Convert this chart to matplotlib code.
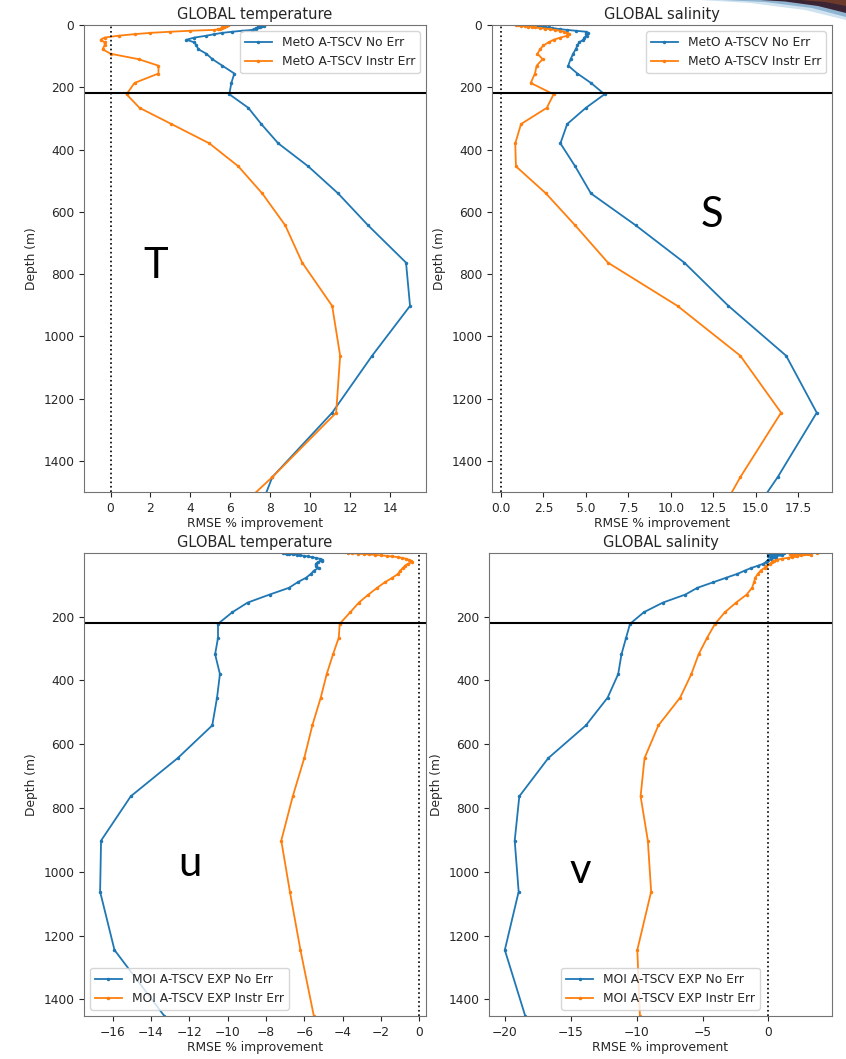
import numpy as np
import matplotlib.pyplot as plt
from matplotlib.patches import Polygon

plt.rcParams['font.size'] = 8.8
plt.rcParams['text.color'] = '#262626'
plt.rcParams['axes.labelcolor'] = '#262626'
plt.rcParams['xtick.color'] = '#262626'
plt.rcParams['ytick.color'] = '#262626'

# model depth levels (m)
depth = [0.49, 1.54, 2.65, 3.82, 5.08, 6.44, 7.93, 9.57, 11.4, 13.47,
         15.81, 18.5, 21.6, 25.21, 29.44, 34.43, 40.34, 47.37, 55.76, 65.81,
         77.85, 92.33, 109.73, 130.67, 155.85, 186.13, 222.48, 266.04, 318.13, 380.21,
         453.94, 541.09, 643.57, 763.33, 902.34, 1062.44, 1245.29, 1452.25, 1684.28]

# RMSE % improvement, MetO A-TSCV, temperature
T_no_err = [7.7, 7.6, 7.7, 7.6, 7.5, 7.4, 7.4, 7.3, 7.3, 7.2,
            7.1, 6.6, 6.1, 5.6, 5.2, 4.8, 4.2, 3.8, 4.2, 4.3,
            4.4, 4.8, 5.1, 5.6, 6.2, 6.05, 5.95, 6.9, 7.55, 8.4,
            9.9, 11.4, 12.9, 14.8, 15.0, 13.1, 11.1, 8.1, 6.7]
T_instr_err = [5.9, 5.9, 5.8, 5.8, 5.7, 5.7, 5.6, 5.6, 5.5, 5.4,
               5.2, 4.0, 3.0, 2.0, 1.2, 0.4, -0.3, -0.5, -0.3, -0.3,
               -0.4, 0.0, 1.4, 2.4, 2.4, 1.2, 0.8, 1.45, 3.05, 4.95,
               6.4, 7.6, 8.75, 9.6, 11.1, 11.5, 11.3, 8.1, 4.2]

# salinity
S_no_err = [1.8, 2.0, 2.2, 2.3, 2.5, 2.6, 2.8, 3.0, 3.2, 3.5,
            3.9, 4.4, 5.0, 5.1, 5.0, 5.05, 4.9, 4.85, 4.6, 4.5,
            4.4, 4.25, 4.1, 3.96, 4.5, 5.3, 6.1, 5.0, 3.9, 3.5,
            4.37, 5.3, 7.94, 10.8, 13.4, 16.8, 18.6, 16.3, 13.4]
S_instr_err = [0.9, 1.0, 1.2, 1.4, 1.6, 1.8, 2.0, 2.3, 2.6, 2.9,
               3.2, 3.5, 3.7, 3.9, 4.0, 3.9, 3.5, 3.1, 2.8, 2.5,
               2.3, 2.15, 2.45, 2.1, 2.0, 1.75, 3.1, 2.7, 1.18, 0.84,
               0.88, 2.65, 4.37, 6.3, 10.4, 14.1, 16.5, 14.1, 11.7]

# MOI A-TSCV EXP, u velocity
u_no_err = [-7.1, -7.0, -6.9, -6.8, -6.6, -6.4, -6.2, -6.0, -5.8, -5.6,
            -5.4, -5.2, -5.05, -5.1, -5.3, -5.4, -5.4, -5.25, -5.5, -5.65,
            -5.9, -6.35, -6.8, -7.8, -8.95, -9.75, -10.5, -10.5, -10.65, -10.4,
            -10.55, -10.8, -12.6, -15.05, -16.6, -16.65, -15.9, -13.3, -10.5]
u_instr_err = [-3.7, -3.5, -3.2, -2.9, -2.6, -2.3, -2.0, -1.7, -1.4, -1.1,
               -0.9, -0.7, -0.55, -0.45, -0.4, -0.6, -0.75, -0.85, -1.0, -1.1,
               -1.4, -1.8, -2.2, -2.65, -3.15, -3.6, -4.15, -4.2, -4.5, -4.83,
               -5.14, -5.58, -6.0, -6.6, -7.2, -6.75, -6.2, -5.5, -4.8]

# v velocity
v_no_err = [0.8, 1.2, 0.6, 0.2, 0.0, 0.5, 1.0, 0.6, 0.0, 0.3,
            0.6, 0.2, 0.0, -0.1, -0.2, -0.4, -0.8, -1.3, -1.8, -2.35,
            -3.2, -4.2, -5.4, -6.3, -8.0, -9.45, -10.5, -10.8, -11.15, -11.4,
            -12.2, -13.85, -16.7, -18.9, -19.25, -18.95, -20.0, -18.45, -16.6]
v_instr_err = [3.7, 3.0, 2.2, 1.6, 2.4, 3.2, 2.5, 1.7, 2.2, 1.8,
               1.5, 1.0, 0.65, 0.4, 0.25, 0.1, -0.2, -0.3, -0.6, -0.8,
               -1.0, -1.1, -1.25, -1.65, -2.45, -3.3, -4.05, -4.65, -5.3, -5.85,
               -6.7, -8.35, -9.4, -9.7, -9.15, -8.9, -9.95, -9.75, -9.5]

W, H = 846, 1059
fig = plt.figure(figsize=(W / 100, H / 100), dpi=100)


def px_axes(x0, y0, x1, y1):
    return fig.add_axes([x0 / W, 1 - y1 / H, (x1 - x0) / W, (y1 - y0) / H])


def profile(ax, a, b, labels, title, xlim, ylim, loc):
    ax.plot(a, depth, '-', marker='.', ms=3, lw=1.3, color='tab:blue', label=labels[0])
    ax.plot(b, depth, '-', marker='.', ms=3, lw=1.3, color='tab:orange', label=labels[1])
    ax.axhline(220, color='k', lw=1.5)
    ax.axvline(0, color='k', ls=':', lw=1.2)
    ax.set_xlim(*xlim)
    ax.set_ylim(*ylim)
    ax.set_title(title, pad=4)
    ax.set_xlabel('RMSE % improvement', labelpad=2)
    ax.set_ylabel('Depth (m)')
    for s in ax.spines.values():
        s.set_color('0.45')
    ax.legend(loc=loc, fontsize=8.8, borderpad=0.4, handlelength=2.2)


meto = ['MetO A-TSCV No Err', 'MetO A-TSCV Instr Err']
moi = ['MOI A-TSCV EXP No Err', 'MOI A-TSCV EXP Instr Err']

ax1 = px_axes(84, 25, 426, 492)
profile(ax1, T_no_err, T_instr_err, meto, 'GLOBAL temperature', (-1.33, 15.8), (1500, 0), 'upper right')
ax1.set_xticks(np.arange(0, 15, 2))

ax2 = px_axes(492, 25, 832, 492)
profile(ax2, S_no_err, S_instr_err, meto, 'GLOBAL salinity', (-0.53, 19.5), (1500, 0), 'upper right')
ax2.set_xticks(np.arange(0, 18, 2.5))

ax3 = px_axes(84, 553, 426, 1016)
profile(ax3, u_no_err, u_instr_err, moi, 'GLOBAL temperature', (-17.49, 0.35), (1452.25, 0.49), 'lower left')
ax3.set_xticks(np.arange(-16, 1, 2))

ax4 = px_axes(489, 553, 832, 1016)
profile(ax4, v_no_err, v_instr_err, moi, 'GLOBAL salinity', (-21.2, 4.82), (1452.25, 0.49), 'lower center')
ax4.set_xticks(np.arange(-20, 1, 5))

# variable letters
for letter, x, y in [('T', 156, 278), ('S', 712, 227), ('u', 190, 876), ('v', 580, 883)]:
    fig.text(x / W, 1 - y / H, letter, fontsize=30, family='Lato', color='black',
             ha='center', va='baseline')


def fig_poly(pts, color):
    return Polygon([(x / W, 1 - y / H) for x, y in pts], closed=True,
                   transform=fig.transFigure, facecolor=color, edgecolor='none')


# slide swoosh in the top right corner
fig.patches.extend([
    fig_poly([(700, 0), (846, 0), (846, 20), (805, 10), (750, 3)], '#cfe2f0'),
    fig_poly([(722, 0), (846, 0), (846, 17), (812, 8), (765, 2)], '#8fb4d2'),
    fig_poly([(760, 0), (846, 0), (846, 13), (818, 6), (785, 1.5)], '#3b2433'),
    fig_poly([(800, 0), (846, 0), (846, 6), (825, 2)], '#6b3a2a'),
])

fig.savefig('out.png', dpi=100)
